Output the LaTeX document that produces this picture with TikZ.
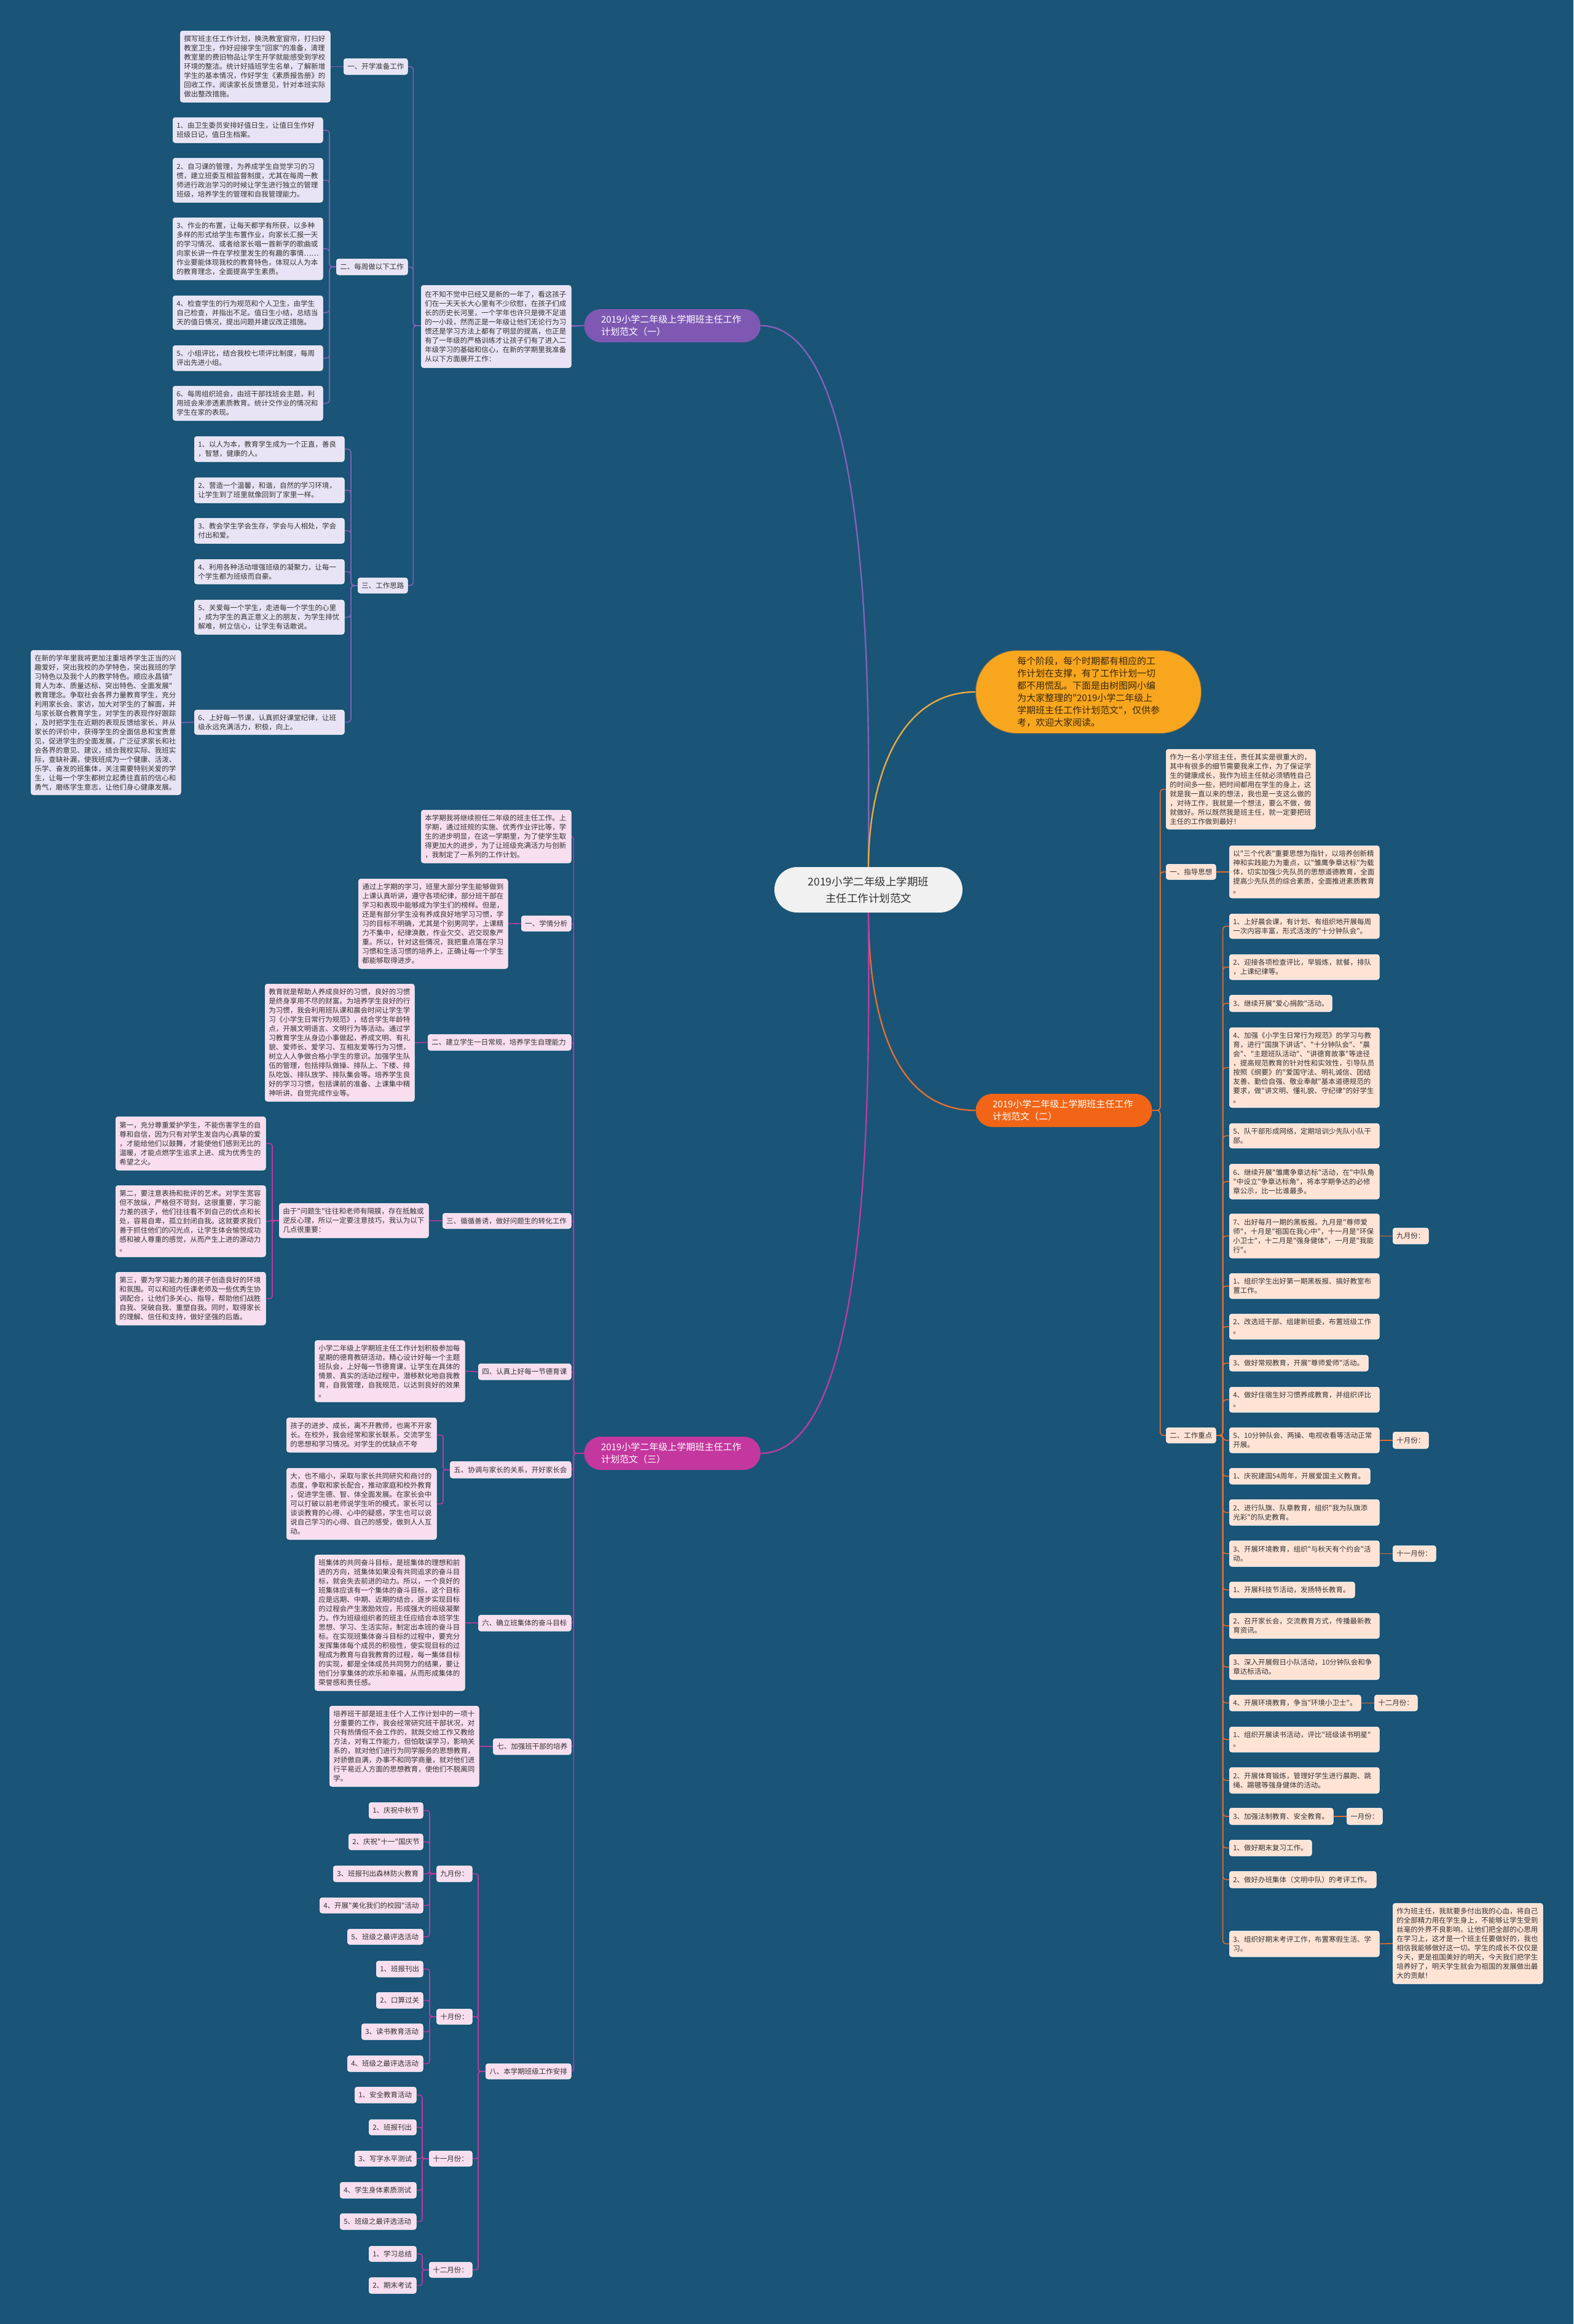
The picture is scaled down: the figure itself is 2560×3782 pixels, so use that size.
\documentclass[tikz,border=0pt]{standalone}
\usepackage{fontspec}
\newfontfamily\cjk{Noto Sans CJK SC}
\usetikzlibrary{calc}

\definecolor{bgblue}{RGB}{26,84,119}
\definecolor{purpleline}{RGB}{128,98,182}
\definecolor{purplehead}{RGB}{127,88,180}
\definecolor{lavender}{RGB}{233,228,245}
\definecolor{magline}{RGB}{184,60,162}
\definecolor{maghead}{RGB}{196,55,158}
\definecolor{pinkfill}{RGB}{248,222,238}
\definecolor{orangeline}{RGB}{226,110,48}
\definecolor{orangehead}{RGB}{242,101,22}
\definecolor{peach}{RGB}{255,228,214}
\definecolor{amber}{RGB}{247,166,30}
\definecolor{amberline}{RGB}{236,170,60}
\definecolor{leadink}{RGB}{58,40,12}
\definecolor{inkgrey}{RGB}{51,51,51}
\definecolor{rootfill}{RGB}{241,241,241}

\pgfdeclarelayer{back}
\pgfdeclarelayer{links}
\pgfsetlayers{back,links,main}

\begin{document}
\begin{tikzpicture}[x=1pt,y=-1pt,
  leaf/.style={rectangle,rounded corners=4pt,draw=white,line width=0.6pt,
    inner xsep=6pt,inner ysep=3pt,align=left,text=inkgrey,
    font=\cjk\fontsize{11.5}{15}\selectfont},
  pbox/.style={leaf,fill=lavender},
  mbox/.style={leaf,fill=pinkfill},
  obox/.style={leaf,fill=peach},
  headnode/.style={rectangle,rounded corners=27pt,minimum width=287pt,
    minimum height=54pt,text width=232pt,align=left,text=white,
    font=\cjk\fontsize{15}{20}\selectfont},
  trunk/.style={line width=2.4pt},
  plink/.style={draw=purpleline,line width=1.6pt,rounded corners=5pt},
  olink/.style={draw=orangeline,line width=1.6pt,rounded corners=5pt},
  mlink/.style={draw=magline,line width=1.6pt,rounded corners=4pt}]

% ----- helper: text card with top-left corner, width and height -----
% \Leaf{name}{style}{x}{y}{w}{h}{text}
\newcommand{\Leaf}[7]{%
  \pgfmathsetmacro{\leafw}{#5-12}%
  \node[#2,anchor=north west,minimum width=#5pt,minimum height=#6pt,
    text width=\leafw pt] (#1) at (#3,#4) {#7};%
}

\useasboundingbox (0,0) rectangle (2560,3782);
\begin{pgfonlayer}{back}
  \fill[bgblue] (0,0) rectangle (2560,3782);
\end{pgfonlayer}

% ----- root -----
\node[rectangle,rounded corners=37pt,fill=rootfill,minimum width=306pt,
  minimum height=74pt,align=center,text=inkgrey,
  font=\cjk\fontsize{17.5}{27}\selectfont] (root) at (1413,1448)
  {2019小学二年级上学期班\\主任工作计划范文};

\node[rectangle,rounded corners=67pt,fill=amber,draw=leadink!70,line width=1pt,
  minimum width=367pt,minimum height=135pt,text width=232pt,align=left,
  text=leadink,font=\cjk\fontsize{15}{20}\selectfont] (lead) at (1771,1126)
  {每个阶段，每个时期都有相应的工\\作计划在支撑，有了工作计划一切\\都不用慌乱。下面是由树图网小编\\为大家整理的"2019小学二年级上\\学期班主任工作计划范文"，仅供参\\考，欢迎大家阅读。};

\node[headnode,fill=purplehead] (plan1) at (1094,530) {2019小学二年级上学期班主任工作\\计划范文（一）};
\node[headnode,fill=orangehead] (plan2) at (1731,1807) {2019小学二年级上学期班主任工作\\计划范文（二）};
\node[headnode,fill=maghead] (plan3) at (1094,2365) {2019小学二年级上学期班主任工作\\计划范文（三）};

% ----- branch (一) -----
\Leaf{intro1}{pbox}{685}{464}{244}{134}{在不知不觉中已经又是新的一年了，看这孩子\\们在一天天长大心里有不少欣慰，在孩子们成\\长的历史长河里，一个学年也许只是微不足道\\的一小段，然而正是一年级让他们无论行为习\\惯还是学习方法上都有了明显的提高，也正是\\有了一年级的严格训练才让孩子们有了进入二\\年级学习的基础和信心，在新的学期里我准备\\从以下方面展开工作：}

\Leaf{prep}{pbox}{559}{95}{104}{26}{一、开学准备工作}
\Leaf{prepA}{pbox}{293}{50}{244}{116}{撰写班主任工作计划，换洗教室窗帘，打扫好\\教室卫生，作好迎接学生"回家"的准备，清理\\教室里的费旧物品让学生开学就能感受到学校\\环境的整洁。统计好插班学生名单，了解新增\\学生的基本情况，作好学生《素质报告册》的\\回收工作，阅读家长反馈意见，针对本班实际\\做出整改措施。}

\Leaf{week}{pbox}{547}{421}{116}{26}{二、每周做以下工作}
\Leaf{weekA}{pbox}{281}{191}{244}{41}{1、由卫生委员安排好值日生，让值日生作好\\班级日记，值日生档案。}
\Leaf{weekB}{pbox}{281}{257}{244}{72}{2、自习课的管理，为养成学生自觉学习的习\\惯，建立班委互相监督制度，尤其在每周一教\\师进行政治学习的时候让学生进行独立的管理\\班级，培养学生的管理和自我管理能力。}
\Leaf{weekC}{pbox}{281}{354}{244}{101}{3、作业的布置，让每天都学有所获，以多种\\多样的形式给学生布置作业，向家长汇报一天\\的学习情况、或者给家长唱一首新学的歌曲或\\向家长讲一件在学校里发生的有趣的事情……\\作业要能体现我校的教育特色，体现以人为本\\的教育理念，全面提高学生素质。}
\Leaf{weekD}{pbox}{281}{481}{244}{55}{4、检查学生的行为规范和个人卫生，由学生\\自己检查，并指出不足。值日生小结，总结当\\天的值日情况，提出问题并建议改正措施。}
\Leaf{weekE}{pbox}{281}{562}{244}{41}{5、小组评比，结合我校七项评比制度，每周\\评出先进小组。}
\Leaf{weekF}{pbox}{281}{628}{244}{56}{6、每周组织班会，由班干部找班会主题，利\\用班会来渗透素质教育。统计交作业的情况和\\学生在家的表现。}

\Leaf{idea}{pbox}{582}{940}{81}{25}{三、工作思路}
\Leaf{ideaA}{pbox}{316}{710}{244}{41}{1、以人为本，教育学生成为一个正直，善良\\，智慧，健康的人。}
\Leaf{ideaB}{pbox}{316}{777}{244}{41}{2、营造一个温馨，和谐，自然的学习环境，\\让学生到了班里就像回到了家里一样。}
\Leaf{ideaC}{pbox}{316}{843}{244}{41}{3、教会学生学会生存，学会与人相处，学会\\付出和爱。}
\Leaf{ideaD}{pbox}{316}{910}{244}{40}{4、利用各种活动增强班级的凝聚力，让每一\\个学生都为班级而自豪。}
\Leaf{ideaE}{pbox}{316}{976}{244}{56}{5、关爱每一个学生，走进每一个学生的心里\\，成为学生的真正意义上的朋友，为学生排忧\\解难，树立信心，让学生有话敢说。}
\Leaf{ideaF}{pbox}{316}{1155}{244}{40}{6、上好每一节课，认真抓好课堂纪律，让班\\级永远充满活力，积极，向上。}
\Leaf{ideaFx}{pbox}{50}{1058}{244}{235}{在新的学年里我将更加注重培养学生正当的兴\\趣爱好，突出我校的办学特色，突出我班的学\\习特色以及我个人的教学特色。顺应永昌镇"\\育人为本、质量达标、突出特色、全面发展"\\教育理念。争取社会各界力量教育学生，充分\\利用家长会、家访，加大对学生的了解面，并\\与家长联合教育学生，对学生的表现作好跟踪\\，及时把学生在近期的表现反馈给家长，并从\\家长的评价中，获得学生的全面信息和宝贵意\\见，促进学生的全面发展，广泛征求家长和社\\会各界的意见、建议，结合我校实际、我班实\\际，查缺补漏，使我班成为一个健康、活泼、\\乐学、奋发的班集体，关注需要特别关爱的学\\生，让每一个学生都树立起勇往直前的信心和\\勇气，磨练学生意志，让他们身心健康发展。}

% ----- branch (二) -----
\Leaf{intro2}{obox}{1897}{1219}{243}{130}{作为一名小学班主任，责任其实是很重大的，\\其中有很多的细节需要我来工作，为了保证学\\生的健康成长，我作为班主任就必须牺牲自己\\的时间多一些，把时间都用在学生的身上，这\\就是我一直以来的想法，我也是一支这么做的\\，对待工作，我就是一个想法，要么不做，做\\就做好。所以既然我是班主任，就一定要把班\\主任的工作做到最好！}

\Leaf{guide}{obox}{1897}{1406}{81}{25}{一、指导思想}
\Leaf{guideA}{obox}{2000}{1376}{244}{85}{以"三个代表"重要思想为指针，以培养创新精\\神和实践能力为重点，以"雏鹰争章达标"为载\\体，切实加强少先队员的思想道德教育，全面\\提高少先队员的综合素质，全面推进素质教育\\。}

\Leaf{focus}{obox}{1897}{2323}{81}{25}{二、工作重点}
\Leaf{fA}{obox}{2000}{1487}{244}{40}{1、上好晨会课，有计划、有组织地开展每周\\一次内容丰富，形式活泼的"十分钟队会"。}
\Leaf{fB}{obox}{2000}{1553}{244}{41}{2、迎接各项检查评比，早锻炼，就餐，排队\\，上课纪律等。}
\Leaf{fC}{obox}{2000}{1619}{167}{27}{3、继续开展"爱心捐款"活动。}
\Leaf{fD}{obox}{2000}{1672}{244}{130}{4、加强《小学生日常行为规范》的学习与教\\育，进行"国旗下讲话"、"十分钟队会"、"晨\\会"、"主题班队活动"、"讲德育故事"等途径\\，提高规范教育的针对性和实效性，引导队员\\按照《纲要》的"爱国守法、明礼诚信、团结\\友善、勤俭自强、敬业奉献"基本道德规范的\\要求，做"讲文明、懂礼貌、守纪律"的好学生\\。}
\Leaf{fE}{obox}{2000}{1828}{244}{40}{5、队干部形成网络，定期培训少先队小队干\\部。}
\Leaf{fF}{obox}{2000}{1894}{244}{57}{6、继续开展"雏鹰争章达标"活动，在"中队角\\"中设立"争章达标角"，将本学期争达的必修\\章公示，比一比谁最多。}
\Leaf{fG}{obox}{2000}{1975}{244}{72}{7、出好每月一期的黑板报。九月是"尊师爱\\师"，十月是"祖国在我心中"，十一月是"环保\\小卫士"，十二月是"强身健体"，一月是"我能\\行"。}
\Leaf{fH}{obox}{2000}{2072}{244}{41}{1、组织学生出好第一期黑板报、搞好教室布\\置工作。}
\Leaf{fI}{obox}{2000}{2138}{244}{41}{2、改选班干部、组建新班委，布置班级工作\\。}
\Leaf{fJ}{obox}{2000}{2205}{226}{26}{3、做好常规教育，开展"尊师爱师"活动。}
\Leaf{fK}{obox}{2000}{2257}{244}{41}{4、做好住宿生好习惯养成教育，并组织评比\\。}
\Leaf{fL}{obox}{2000}{2323}{244}{41}{5、10分钟队会、两操、电视收看等活动正常\\开展。}
\Leaf{fM}{obox}{2000}{2389}{229}{26}{1、庆祝建国54周年，开展爱国主义教育。}
\Leaf{fN}{obox}{2000}{2440}{244}{42}{2、进行队旗、队章教育，组织"我为队旗添\\光彩"的队史教育。}
\Leaf{fO}{obox}{2000}{2507}{244}{42}{3、开展环境教育，组织"与秋天有个约会"活\\动。}
\Leaf{fP}{obox}{2000}{2574}{204}{26}{1、开展科技节活动，发扬特长教育。}
\Leaf{fQ}{obox}{2000}{2625}{244}{41}{2、召开家长会，交流教育方式，传播最新教\\育资讯。}
\Leaf{fR}{obox}{2000}{2692}{244}{41}{3、深入开展假日小队活动，10分钟队会和争\\章达标活动。}
\Leaf{fS}{obox}{2000}{2758}{214}{26}{4、开展环境教育，争当"环境小卫士"。}
\Leaf{fT}{obox}{2000}{2810}{244}{41}{1、组织开展读书活动，评比"班级读书明星"\\。}
\Leaf{fU}{obox}{2000}{2876}{244}{42}{2、开展体育锻炼，管理好学生进行晨跑、跳\\绳、踢毽等强身健体的活动。}
\Leaf{fV}{obox}{2000}{2942}{169}{27}{3、加强法制教育、安全教育。}
\Leaf{fW}{obox}{2000}{2994}{134}{26}{1、做好期末复习工作。}
\Leaf{fX}{obox}{2000}{3045}{239}{27}{2、做好办班集体（文明中队）的考评工作。}
\Leaf{fY}{obox}{2000}{3142}{244}{42}{3、组织好期末考评工作，布置寒假生活、学\\习。}

\Leaf{sep}{obox}{2266}{1998}{58}{26}{九月份：}
\Leaf{oct}{obox}{2266}{2330}{58}{27}{十月份：}
\Leaf{nov}{obox}{2266}{2515}{70}{26}{十一月份：}
\Leaf{dec}{obox}{2236}{2758}{70}{26}{十二月份：}
\Leaf{jan}{obox}{2191}{2942}{58}{27}{一月份：}
\Leaf{outro2}{obox}{2266}{3097}{244}{131}{作为班主任，我就要多付出我的心血，将自己\\的全部精力用在学生身上，不能够让学生受到\\丝毫的外界不良影响，让他们把全部的心思用\\在学习上，这才是一个班主任要做好的，我也\\相信我能够做好这一切。学生的成长不仅仅是\\今天，更是祖国美好的明天，今天我们把学生\\培养好了，明天学生就会为祖国的发展做出最\\大的贡献！}

% ----- branch (三) -----
\Leaf{intro3}{mbox}{685}{1318}{244}{86}{本学期我将继续担任二年级的班主任工作。上\\学期，通过班规的实施、优秀作业评比等，学\\生的进步明显，在这一学期里，为了使学生取\\得更加大的进步，为了让班级充满活力与创新\\，我制定了一系列的工作计划。}

\Leaf{sA}{mbox}{848}{1490}{81}{25}{一、学情分析}
\Leaf{sAx}{mbox}{583}{1430}{243}{146}{通过上学期的学习，班里大部分学生能够做到\\上课认真听讲，遵守各项纪律，部分班干部在\\学习和表现中能够成为学生们的榜样。但是，\\还是有部分学生没有养成良好地学习习惯，学\\习的目标不明确，尤其是个别男同学，上课精\\力不集中，纪律涣散，作业欠交、迟交现象严\\重。所以，针对这些情况，我把重点落在学习\\习惯和生活习惯的培养上，正确让每一个学生\\都能够取得进步。}

\Leaf{sB}{mbox}{696}{1683}{233}{26}{二、建立学生一日常规，培养学生自理能力}
\Leaf{sBx}{mbox}{431}{1601}{243}{191}{教育就是帮助人养成良好的习惯，良好的习惯\\是终身享用不尽的财富。为培养学生良好的行\\为习惯，我会利用班队课和晨会时间让学生学\\习《小学生日常行为规范》，结合学生年龄特\\点，开展文明语言、文明行为等活动。通过学\\习教育学生从身边小事做起，养成文明、有礼\\貌、爱师长、爱学习、互相友爱等行为习惯，\\树立人人争做合格小学生的意识。加强学生队\\伍的管理，包括排队做操、排队上、下楼、排\\队吃饭、排队放学、排队集会等。培养学生良\\好的学习习惯，包括课前的准备、上课集中精\\神听讲、自觉完成作业等。}

\Leaf{sC}{mbox}{720}{1974}{209}{25}{三、循循善诱，做好问题生的转化工作}
\Leaf{sCx}{mbox}{454}{1958}{243}{56}{由于"问题生"往往和老师有隔膜，存在抵触或\\逆反心理，所以一定要注意技巧，我认为以下\\几点很重要：}
\Leaf{sC1}{mbox}{188}{1817}{244}{87}{第一，充分尊重爱护学生，不能伤害学生的自\\尊和自信，因为只有对学生发自内心真挚的爱\\，才能给他们以鼓舞，才能使他们感到无比的\\温暖，才能点燃学生追求上进、成为优秀生的\\希望之火。}
\Leaf{sC2}{mbox}{188}{1929}{244}{116}{第二，要注意表扬和批评的艺术。对学生宽容\\但不放纵，严格但不苛刻，这很重要，学习能\\力差的孩子，他们往往看不到自己的优点和长\\处，容易自卑，孤立封闭自我。这就要求我们\\善于抓住他们的闪光点，让学生体会愉悦成功\\感和被人尊重的感觉，从而产生上进的源动力\\。}
\Leaf{sC3}{mbox}{188}{2070}{244}{86}{第三，要为学习能力差的孩子创造良好的环境\\和氛围。可以和班内任课老师及一些优秀生协\\调配合，让他们多关心、指导，帮助他们战胜\\自我、突破自我、重塑自我。同时，取得家长\\的理解、信任和支持，做好坚强的后盾。}

\Leaf{sD}{mbox}{778}{2219}{151}{26}{四、认真上好每一节德育课}
\Leaf{sDx}{mbox}{512}{2181}{244}{100}{小学二年级上学期班主任工作计划积极参加每\\星期的德育教研活动，精心设计好每一个主题\\班队会，上好每一节德育课，让学生在具体的\\情景、真实的活动过程中，潜移默化地自我教\\育，自我管理，自我规范，以达到良好的效果\\。}

\Leaf{sE}{mbox}{732}{2378}{197}{27}{五、协调与家长的关系，开好家长会}
\Leaf{sE1}{mbox}{466}{2307}{244}{56}{孩子的进步、成长，离不开教师，也离不开家\\长。在校外，我会经常和家长联系，交流学生\\的思想和学习情况。对学生的优缺点不夸}
\Leaf{sE2}{mbox}{466}{2389}{244}{116}{大，也不缩小，采取与家长共同研究和商讨的\\态度，争取和家长配合，推动家庭和校外教育\\，促进学生德、智、体全面发展。在家长会中\\可以打破以前老师说学生听的模式，家长可以\\谈谈教育的心得、心中的疑惑，学生也可以说\\说自己学习的心得、自己的感受，做到人人互\\动。}

\Leaf{sF}{mbox}{778}{2628}{151}{26}{六、确立班集体的奋斗目标}
\Leaf{sFx}{mbox}{512}{2530}{244}{221}{班集体的共同奋斗目标，是班集体的理想和前\\进的方向，班集体如果没有共同追求的奋斗目\\标，就会失去前进的动力。所以，一个良好的\\班集体应该有一个集体的奋斗目标，这个目标\\应是远期、中期、近期的结合，逐步实现目标\\的过程会产生激励效应，形成强大的班级凝聚\\力。作为班级组织者的班主任应结合本班学生\\思想、学习、生活实际，制定出本班的奋斗目\\标。在实现班集体奋斗目标的过程中，要充分\\发挥集体每个成员的积极性，使实现目标的过\\程成为教育与自我教育的过程，每一集体目标\\的实现，都是全体成员共同努力的结果，要让\\他们分享集体的欢乐和幸福，从而形成集体的\\荣誉感和责任感。}

\Leaf{sG}{mbox}{802}{2829}{127}{26}{七、加强班干部的培养}
\Leaf{sGx}{mbox}{536}{2776}{243}{131}{培养班干部是班主任个人工作计划中的一项十\\分重要的工作，我会经常研究班干部状况，对\\只有热情但不会工作的，就既交给工作又教给\\方法，对有工作能力，但怕耽误学习，影响关\\系的，就对他们进行为同学服务的思想教育，\\对骄傲自满，办事不和同学商量，就对他们进\\行平易近人方面的思想教育，使他们不脱离同\\学。}

\Leaf{sH}{mbox}{790}{3358}{139}{25}{八、本学期班级工作安排}
\Leaf{m9}{mbox}{710}{3036}{58}{26}{九月份：}
\Leaf{m10}{mbox}{710}{3269}{58}{25}{十月份：}
\Leaf{m11}{mbox}{698}{3500}{70}{25}{十一月份：}
\Leaf{m12}{mbox}{698}{3681}{70}{25}{十二月份：}
\Leaf{m9a}{mbox}{600}{2933}{88}{26}{1、庆祝中秋节}
\Leaf{m9b}{mbox}{567}{2984}{121}{26}{2、庆祝"十一"国庆节}
\Leaf{m9c}{mbox}{542}{3036}{146}{26}{3、班报刊出森林防火教育}
\Leaf{m9d}{mbox}{520}{3088}{168}{25}{4、开展"美化我们的校园"活动}
\Leaf{m9e}{mbox}{565}{3139}{123}{25}{5、班级之最评选活动}
\Leaf{m10a}{mbox}{612}{3191}{76}{26}{1、班报刊出}
\Leaf{m10b}{mbox}{612}{3242}{76}{26}{2、口算过关}
\Leaf{m10c}{mbox}{588}{3293}{100}{26}{3、读书教育活动}
\Leaf{m10d}{mbox}{565}{3345}{123}{26}{4、班级之最评选活动}
\Leaf{m11a}{mbox}{577}{3396}{100}{26}{1、安全教育活动}
\Leaf{m11b}{mbox}{600}{3449}{77}{25}{2、班报刊出}
\Leaf{m11c}{mbox}{577}{3500}{100}{25}{3、写字水平测试}
\Leaf{m11d}{mbox}{553}{3551}{124}{26}{4、学生身体素质测试}
\Leaf{m11e}{mbox}{553}{3602}{124}{26}{5、班级之最评选活动}
\Leaf{m12a}{mbox}{600}{3655}{77}{25}{1、学习总结}
\Leaf{m12b}{mbox}{600}{3706}{77}{26}{2、期末考试}

% ----- connectors (under the cards) -----
\begin{pgfonlayer}{links}
  % root to the four heads
  \draw[trunk,purpleline] (root.north) to[out=90,in=0,looseness=0.55] (plan1.east);
  \draw[trunk,amberline] (root.north) to[out=90,in=180] (lead.west);
  \draw[trunk,orangeline] (root.south) to[out=-90,in=180] (plan2.west);
  \draw[trunk,magline] (root.south) to[out=-90,in=0,looseness=0.55] (plan3.east);

  % branch (一)
  \draw[plink] (plan1.west) -- (intro1.east);
  \foreach \n in {prep,week,idea}
    \draw[plink] (plan1.west) -- ++(-278,0) |- (\n.east);
  \draw[plink] (prep.west) -- (prepA.east);
  \foreach \n in {weekA,weekB,weekC,weekD,weekE,weekF}
    \draw[plink] (week.west) -- ++(-11,0) |- (\n.east);
  \foreach \n in {ideaA,ideaB,ideaC,ideaD,ideaE,ideaF}
    \draw[plink] (idea.west) -- ++(-11,0) |- (\n.east);
  \draw[plink] (ideaF.west) -- (ideaFx.east);

  % branch (二)
  \foreach \n in {intro2,guide,focus}
    \draw[olink] (plan2.east) -- ++(13,0) |- (\n.west);
  \draw[olink] (guide.east) -- (guideA.west);
  \foreach \n in {fA,fB,fC,fD,fE,fF,fG,fH,fI,fJ,fK,fL,fM,fN,fO,fP,fQ,fR,fS,fT,fU,fV,fW,fX,fY}
    \draw[olink] (focus.east) -- ++(11,0) |- (\n.west);
  \draw[olink] (fG.east) -- (sep.west);
  \draw[olink] (fL.east) -- (oct.west);
  \draw[olink] (fO.east) -- (nov.west);
  \draw[olink] (fS.east) -- (dec.west);
  \draw[olink] (fV.east) -- (jan.west);
  \draw[olink] (fY.east) -- (outro2.west);

  % branch (三)
  \foreach \n in {intro3,sA,sB,sC,sD,sE,sF,sG,sH}
    \draw[mlink] (plan3.west) -- ++(-17,0) |- (\n.east);
  \draw[mlink] (sA.west) -- (sAx.east);
  \draw[mlink] (sB.west) -- (sBx.east);
  \draw[mlink] (sC.west) -- (sCx.east);
  \foreach \n in {sC1,sC2,sC3}
    \draw[mlink] (sCx.west) -- ++(-11,0) |- (\n.east);
  \draw[mlink] (sD.west) -- (sDx.east);
  \foreach \n in {sE1,sE2}
    \draw[mlink] (sE.west) -- ++(-11,0) |- (\n.east);
  \draw[mlink] (sF.west) -- (sFx.east);
  \draw[mlink] (sG.west) -- (sGx.east);
  \foreach \n in {m9,m10,m11,m12}
    \draw[mlink] (sH.west) -- ++(-12,0) |- (\n.east);
  \foreach \n in {m9a,m9b,m9c,m9d,m9e}
    \draw[mlink] (m9.west) -- ++(-11,0) |- (\n.east);
  \foreach \n in {m10a,m10b,m10c,m10d}
    \draw[mlink] (m10.west) -- ++(-11,0) |- (\n.east);
  \foreach \n in {m11a,m11b,m11c,m11d,m11e}
    \draw[mlink] (m11.west) -- ++(-11,0) |- (\n.east);
  \foreach \n in {m12a,m12b}
    \draw[mlink] (m12.west) -- ++(-11,0) |- (\n.east);
\end{pgfonlayer}

\end{tikzpicture}
\end{document}
